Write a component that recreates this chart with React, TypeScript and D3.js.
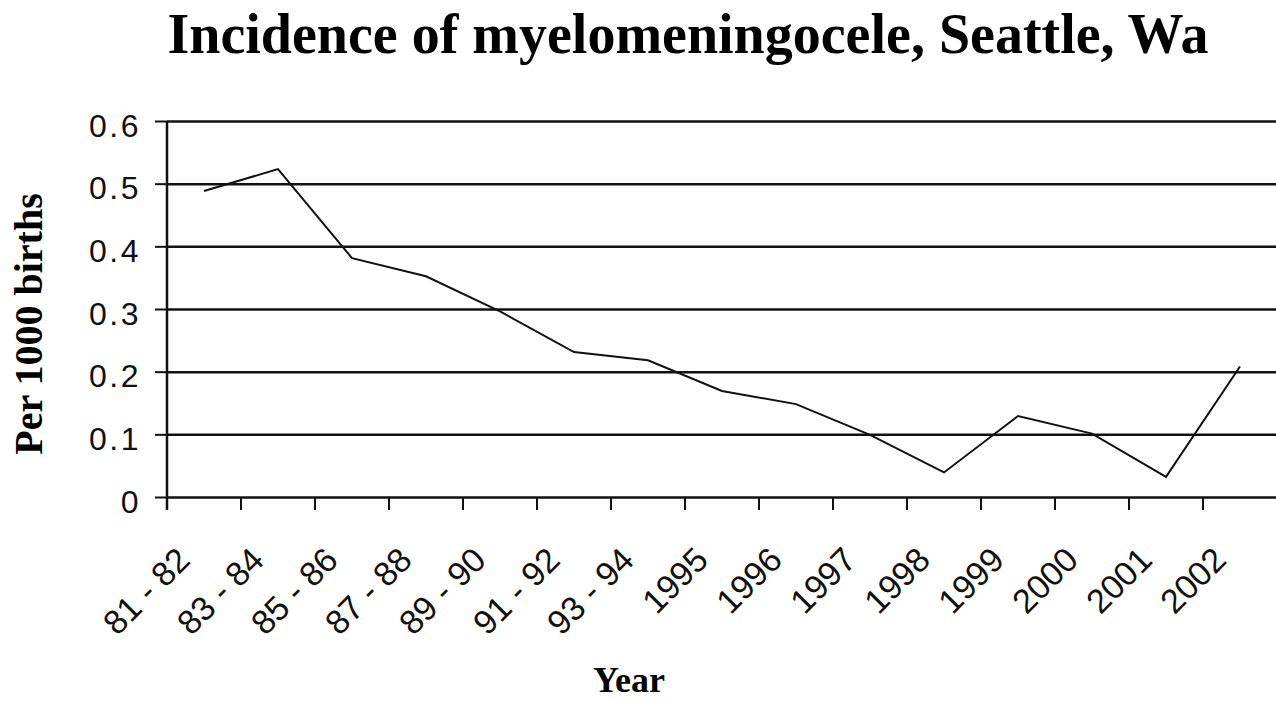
import React, { useRef, useEffect } from 'react'
import * as d3 from 'd3'

const categories = [
  '81 - 82', '83 - 84', '85 - 86', '87 - 88', '89 - 90', '91 - 92', '93 - 94',
  '1995', '1996', '1997', '1998', '1999', '2000', '2001', '2002'
]
const rates = [
  0.489, 0.524, 0.382, 0.353, 0.297, 0.232, 0.219,
  0.170, 0.149, 0.100, 0.040, 0.130, 0.102, 0.033, 0.209
]
const yTicks = [0, 0.1, 0.2, 0.3, 0.4, 0.5, 0.6]

const titleText = 'Incidence of myelomeningocele, Seattle, Wa'
const xTitle = 'Year'
const yTitle = 'Per 1000 births'

const W = 1276
const H = 702
const serif = '"Liberation Serif", "Times New Roman", serif'
const sans = '"Liberation Sans", Arial, sans-serif'

const App: React.FC = () => {
  const svgRef = useRef<SVGSVGElement>(null)

  useEffect(() => {
    if (!svgRef.current) return
    const svg = d3.select(svgRef.current)
    svg.selectAll('*').remove()

    const x = d3.scaleBand<string>().domain(categories).range([167, 1277]).padding(0)
    const y = d3.scaleLinear().domain([0, 0.6]).range([497.5, 121.5])

    // 网格线
    svg.append('g')
      .selectAll('line')
      .data(yTicks.filter(d => d > 0))
      .join('line')
      .attr('x1', x.range()[0])
      .attr('x2', x.range()[1])
      .attr('y1', d => y(d))
      .attr('y2', d => y(d))
      .attr('stroke', '#111')
      .attr('stroke-width', 2.5)

    // 坐标轴
    const axes = svg.append('g').attr('stroke', '#111').attr('stroke-width', 2.5)
    axes.append('line')
      .attr('x1', 167).attr('x2', 167)
      .attr('y1', y(0.6)).attr('y2', 510)
    axes.append('line')
      .attr('x1', x.range()[0]).attr('x2', x.range()[1])
      .attr('y1', y(0)).attr('y2', y(0))

    axes.selectAll('line.ytick')
      .data(yTicks)
      .join('line')
      .attr('class', 'ytick')
      .attr('x1', 155).attr('x2', 167)
      .attr('y1', d => y(d)).attr('y2', d => y(d))
      .attr('stroke-width', 2)

    const bounds = categories.map(c => x(c) as number).concat([x.range()[1]])
    axes.selectAll('line.xtick')
      .data(bounds.slice(1, -1))
      .join('line')
      .attr('class', 'xtick')
      .attr('x1', d => d).attr('x2', d => d)
      .attr('y1', y(0)).attr('y2', 510)
      .attr('stroke-width', 2)

    // 刻度文字
    svg.append('g')
      .selectAll('text')
      .data(yTicks)
      .join('text')
      .attr('x', 141)
      .attr('y', d => y(d) + 15)
      .attr('text-anchor', 'end')
      .attr('font-family', sans)
      .attr('font-size', 32)
      .attr('letter-spacing', 2.5)
      .attr('fill', '#111')
      .text(d => d3.format('')(d))

    svg.append('g')
      .selectAll('text')
      .data(categories)
      .join('text')
      .attr('transform', d => `translate(${(x(d) as number) + x.bandwidth() / 2 - 12},562) rotate(-45)`)
      .attr('text-anchor', 'end')
      .attr('font-family', sans)
      .attr('font-size', 34)
      .attr('fill', '#111')
      .text(d => d)

    // 折线
    const line = d3.line<number>()
      .x((_, i) => (x(categories[i]) as number) + x.bandwidth() / 2)
      .y(d => y(d))

    svg.append('path')
      .datum(rates)
      .attr('d', line)
      .attr('fill', 'none')
      .attr('stroke', '#111')
      .attr('stroke-width', 2)

    // 标题
    svg.append('text')
      .attr('x', 688)
      .attr('y', 53)
      .attr('text-anchor', 'middle')
      .attr('font-family', serif)
      .attr('font-weight', 'bold')
      .attr('font-size', 56)
      .attr('fill', '#000')
      .text(titleText)

    svg.append('text')
      .attr('x', 629)
      .attr('y', 692)
      .attr('text-anchor', 'middle')
      .attr('font-family', serif)
      .attr('font-weight', 'bold')
      .attr('font-size', 36)
      .attr('fill', '#000')
      .text(xTitle)

    svg.append('text')
      .attr('transform', 'translate(42,324) rotate(-90)')
      .attr('text-anchor', 'middle')
      .attr('font-family', serif)
      .attr('font-weight', 'bold')
      .attr('font-size', 40)
      .attr('fill', '#000')
      .text(yTitle)
  }, [])

  return (
    <svg
      ref={svgRef}
      width={W}
      height={H}
      style={{ position: 'absolute', left: 0, top: 0, background: '#fff', display: 'block' }}
    />
  )
}

export default App
